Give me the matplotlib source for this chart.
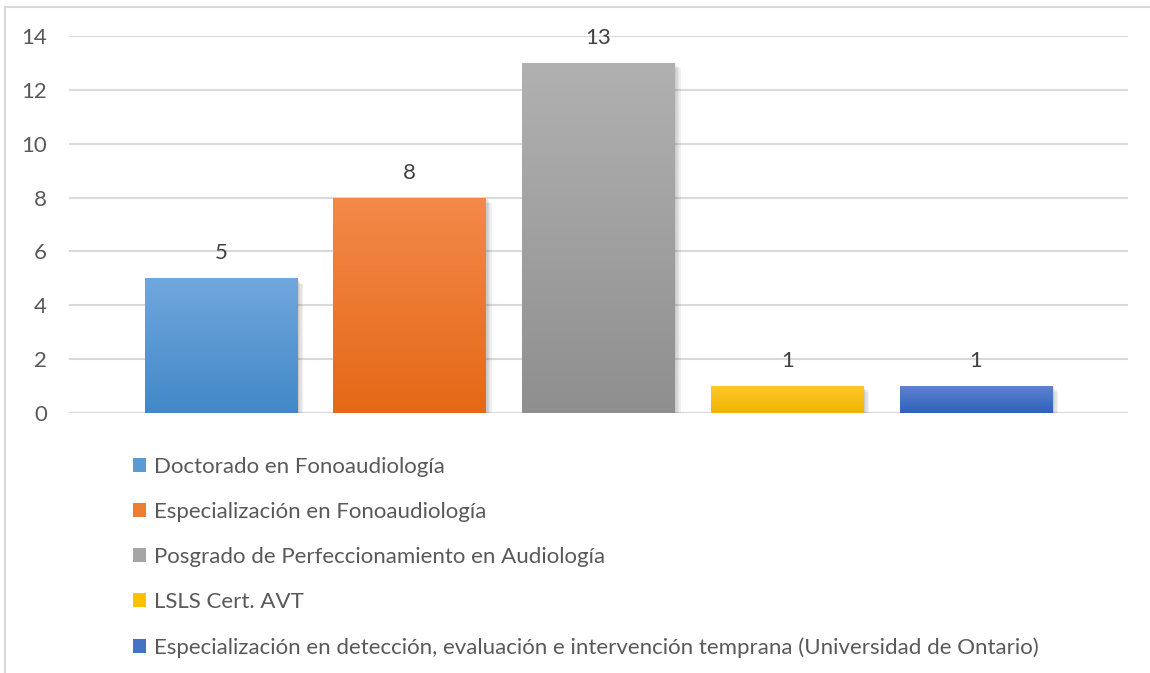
import matplotlib.pyplot as plt
import matplotlib.patheffects as pe
import numpy as np
from matplotlib.patches import Patch
from matplotlib.colors import LinearSegmentedColormap

plt.rcParams['font.family'] = ['Lato', 'DejaVu Sans']

labels = [
    "Doctorado en Fonoaudiología",
    "Especialización en Fonoaudiología",
    "Posgrado de Perfeccionamiento en Audiología",
    "LSLS Cert. AVT",
    "Especialización en detección, evaluación e intervención temprana (Universidad de Ontario)",
]
values = [5, 8, 13, 1, 1]
top_colors = ["#71a7dd", "#f4894b", "#b1b1b1", "#ffc92c", "#5d82d1"]
bottom_colors = ["#4288c8", "#e46915", "#8f8f8f", "#efb300", "#2f61bb"]
mid_colors = ["#5b9bd5", "#ed7d31", "#a5a5a5", "#ffc000", "#4472c4"]

fig = plt.figure(figsize=(11.5, 6.73), dpi=100)
ax = fig.add_axes([69 / 1150, 1 - 413 / 673, (1128 - 69) / 1150, (413 - 36) / 673])

x = np.arange(len(values))
width = 0.81
# soft shadow: a few faint offset copies
shadow = [pe.SimplePatchShadow(offset=(d, -d), shadow_rgbFace="#606060", alpha=0.09) for d in (4, 3, 2, 1)]
bars = ax.bar(x, values, width=width, color=mid_colors, zorder=3,
              path_effects=shadow + [pe.Normal()])

grad = np.linspace(0, 1, 256).reshape(-1, 1)
for b, c_top, c_bot in zip(bars, top_colors, bottom_colors):
    cmap = LinearSegmentedColormap.from_list("g", [c_bot, c_top])
    im = ax.imshow(grad, cmap=cmap, origin="lower", aspect="auto", zorder=4,
                   extent=[b.get_x(), b.get_x() + b.get_width(), 0, b.get_height()])
    im.set_clip_path(b)
    ax.text(b.get_x() + b.get_width() / 2, b.get_height() + 0.93, str(int(b.get_height())),
            ha="center", va="center", fontsize=16, color="#404040", zorder=5)

ax.set_xlim(-0.805, 4.805)
ax.set_ylim(0, 14)
ax.set_yticks(range(0, 15, 2))
ax.set_xticks([])
ax.grid(axis="y", color="#d9d9d9", linewidth=1.5, zorder=0)
for s in ax.spines.values():
    s.set_visible(False)
ax.tick_params(axis="y", length=0, pad=16, labelsize=16, labelcolor="#595959")

handles = [Patch(facecolor=c, edgecolor="none") for c in mid_colors]
fig.legend(handles, labels, loc="upper left", bbox_to_anchor=(124 / 1150, 1 - 448 / 673),
           frameon=False, fontsize=16, labelcolor="#595959", handlelength=0.6, handleheight=0.6,
           handletextpad=0.35, labelspacing=1.13, borderaxespad=0)

# chart area border (left and top edges visible)
fig.add_artist(plt.Line2D([5 / 1150, 5 / 1150], [0, 1 - 7 / 673], color="#d9d9d9", lw=1.5))
fig.add_artist(plt.Line2D([5 / 1150, 1], [1 - 7 / 673, 1 - 7 / 673], color="#d9d9d9", lw=1.5))

fig.savefig("out.png", dpi=100)
